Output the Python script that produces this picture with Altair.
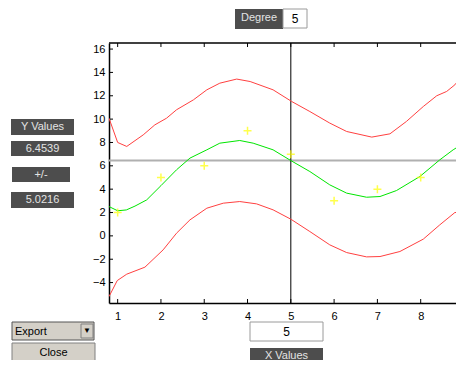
import altair as alt
import pandas as pd

# ---------------- data ----------------
pts_x = [1, 2, 3, 4, 5, 6, 7, 8, 9]
pts_y = [2, 5, 6, 9, 7, 3, 4, 5, 8]

fit_x = [0.8, 1.0, 1.2, 1.4, 1.67, 2.0, 2.36, 2.67, 3.06, 3.36, 3.82, 4.13, 4.59,
         5.0, 5.44, 5.9, 6.29, 6.75, 7.06, 7.44, 7.98, 8.44, 8.75, 9.0]
fit_y = [2.51, 2.15, 2.22, 2.55, 3.08, 4.3, 5.66, 6.66, 7.37, 7.94, 8.17, 7.94, 7.37,
         6.45, 5.51, 4.37, 3.66, 3.31, 3.37, 3.88, 5.08, 6.51, 7.37, 7.95]

up_x = [0.8, 1.0, 1.21, 1.59, 1.86, 2.13, 2.36, 2.75, 3.06, 3.36, 3.75, 4.06, 4.59,
        5.02, 5.44, 5.9, 6.29, 6.87, 7.29, 7.67, 8.06, 8.37, 8.6, 8.79, 9.0]
up_y = [10.08, 8.0, 7.66, 8.65, 9.51, 10.08, 10.8, 11.65, 12.51, 13.08, 13.43, 13.22, 12.51,
        11.51, 10.65, 9.66, 8.94, 8.46, 8.74, 9.8, 11.08, 12.0, 12.37, 12.94, 13.94]

lo_x = [0.8, 0.99, 1.21, 1.63, 2.05, 2.36, 2.67, 3.06, 3.44, 3.82, 4.21, 4.59, 5.0,
        5.44, 5.9, 6.29, 6.75, 7.06, 7.52, 8.06, 8.44, 8.79, 9.0]
lo_y = [-5.2, -3.83, -3.28, -2.68, -1.2, 0.23, 1.37, 2.37, 2.8, 2.94, 2.74, 2.23, 1.43,
        0.37, -0.77, -1.43, -1.8, -1.77, -1.34, -0.28, 0.94, 2.0, 2.03]

x_ticks = [1, 2, 3, 4, 5, 6, 7, 8]
y_ticks = [-4, -2, 0, 2, 4, 6, 8, 10, 12, 14, 16]
cur_x = 5
cur_y = 6.4539
half_width = 5.0216
degree = 5

W, H = 347, 260
PX_PER_X = 43.29
X_DOM = [0.8, 0.8 + W / PX_PER_X]
Y_DOM = [-5.75, 16.52]
FONT = "Liberation Sans"

xs = alt.Scale(domain=X_DOM, nice=False, zero=False)
ys = alt.Scale(domain=Y_DOM, nice=False, zero=False)

xaxis = alt.Axis(values=x_ticks, ticks=False, grid=False, domain=True, domainColor="black",
                 domainWidth=1.5, labelPadding=7, labelFont=FONT, labelFontSize=11,
                 labelColor="black", title=None)
yaxis = alt.Axis(values=y_ticks, ticks=False, grid=False, domain=True, domainColor="black",
                 domainWidth=1.5, labelPadding=4, labelFont=FONT, labelFontSize=11,
                 labelColor="black", title=None)

def X(f="x"):
    return alt.X(f"{f}:Q", scale=xs, axis=xaxis)

def Y(f="y"):
    return alt.Y(f"{f}:Q", scale=ys, axis=yaxis)

def line(xv, yv, color):
    df = pd.DataFrame({"x": xv, "y": yv})
    return alt.Chart(df).mark_line(color=color, strokeWidth=1, clip=True).encode(x=X(), y=Y())

base = alt.Chart(pd.DataFrame({"x": [cur_x], "y": [cur_y]}))
hline = base.mark_rule(color="#b0b0b0", strokeWidth=2).encode(
    y=Y(), x=alt.value(0), x2=alt.value(W))
vline = base.mark_rule(color="black", strokeWidth=1).encode(
    x=X(), y=alt.value(0), y2=alt.value(H))
top_line = base.mark_rule(color="black", strokeWidth=1.5).encode(
    x=alt.value(0), x2=alt.value(W), y=alt.value(0))

xt = pd.DataFrame({"x": x_ticks})
yt = pd.DataFrame({"y": y_ticks})
xtick_b = alt.Chart(xt).mark_rule(color="black").encode(
    x=X(), y=alt.value(H), y2=alt.value(H - 4))
xtick_t = alt.Chart(xt).mark_rule(color="black").encode(
    x=X(), y=alt.value(0), y2=alt.value(4))
ytick = alt.Chart(yt).mark_rule(color="black").encode(
    y=Y(), x=alt.value(0), x2=alt.value(4))

pts = alt.Chart(pd.DataFrame({"x": pts_x, "y": pts_y})).mark_point(
    shape="M-1,0L1,0M0,-1L0,1", size=64, color="#ffff00", strokeWidth=1.5, filled=False,
    clip=True
).encode(x=X(), y=Y())

# ---------------- GUI decorations (pixel offsets from plot origin 109,43) ----------------
OX, OY = 109, 43
one = pd.DataFrame({"a": [0]})

def box(x1, y1, x2, y2, fill, stroke=None, sw=1):
    kw = dict(fill=fill)
    if stroke:
        kw.update(stroke=stroke, strokeWidth=sw)
    return alt.Chart(one).mark_rect(**kw).encode(
        x=alt.value(x1 - OX), x2=alt.value(x2 - OX), y=alt.value(y1 - OY), y2=alt.value(y2 - OY))

def label(txt, x, y, color, align="center", size=11):
    return alt.Chart(one).mark_text(text=txt, font=FONT, fontSize=size, color=color,
                                    align=align, baseline="middle").encode(
        x=alt.value(x - OX), y=alt.value(y - OY))

DARK = "#4d4d4d"
LT = "#e4e4e4"
GREY = "#d4d0c8"
S = 5  # bottom row lifted to fit the page
gui = [
    box(235, 9, 283, 29, DARK), label("Degree", 259, 18, LT),
    box(283, 9, 307, 28, "white", "#9a9a9a"), label(str(degree), 295, 19, "black", size=12),
    box(11, 119, 74, 135, DARK), label("Y Values", 42.5, 127, LT),
    box(11, 141, 74, 156, DARK), label(f"{cur_y:.4f}", 42.5, 148.5, LT),
    box(12, 167, 70, 182, DARK), label("+/-", 41, 174.5, LT),
    box(11, 192, 74, 208, DARK), label(f"{half_width:.4f}", 42.5, 200, LT),
    box(12, 327 - S, 94, 345 - S, GREY, "#555555"), label("Export", 15, 336.5 - S, "black", align="left"),
    box(81, 329 - S, 93, 343 - S, GREY, "#808080"), label("▼", 87, 336 - S, "black", size=8),
    box(12, 348 - S, 95, 370 - S, GREY, "#808080"), label("Close", 53.5, 357.5 - S, "black"),
    box(250, 327 - S, 323, 346 - S, "white", "#9a9a9a"), label(str(cur_x), 286.5, 336.5 - S, "black", size=12),
    box(250, 353 - S, 323, 370 - S, DARK), label("X Values", 286.5, 360.5 - S, LT),
]

chart = alt.layer(
    hline, vline, top_line, xtick_b, xtick_t, ytick,
    line(up_x, up_y, "#ff4040"), line(lo_x, lo_y, "#ff4040"), line(fit_x, fit_y, "#00e600"),
    pts, *gui
).properties(
    width=W, height=H,
    autosize=alt.AutoSizeParams(type="none"),
    padding={"left": 101, "top": 35, "right": 0, "bottom": 57},
    background="white",
).configure_view(stroke=None)

chart.save("out.html", embed_options={"renderer": "svg", "actions": False})
